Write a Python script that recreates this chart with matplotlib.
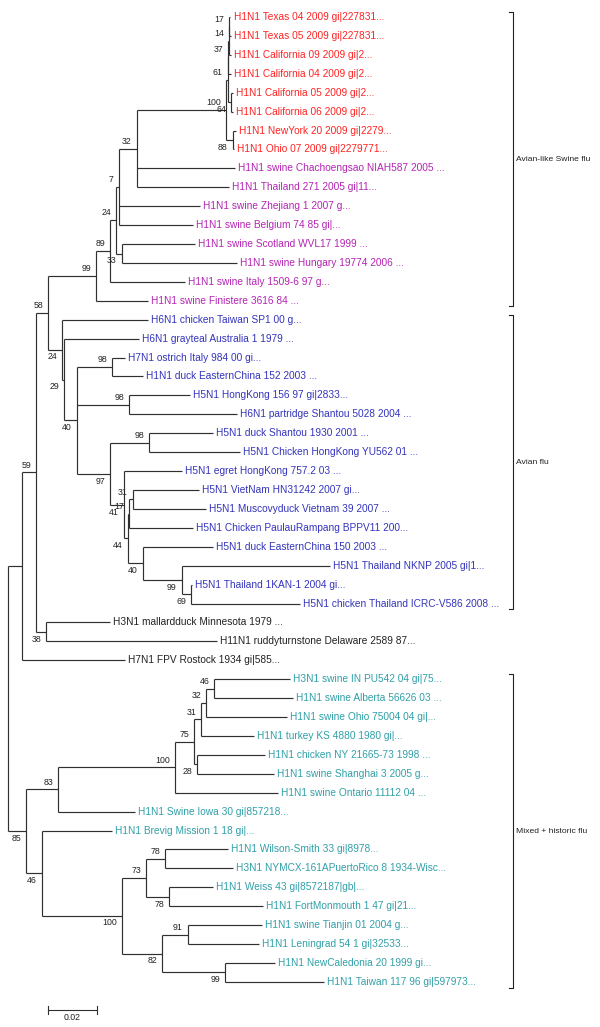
import matplotlib
matplotlib.use("Agg")
import matplotlib.pyplot as plt

plt.rcParams['font.family'] = ['Liberation Sans', 'DejaVu Sans']

# leaf labels, top to bottom (tree order)
leaf_names = [
    "H1N1 Texas 04 2009 gi|227831...",
    "H1N1 Texas 05 2009 gi|227831...",
    "H1N1 California 09 2009 gi|2...",
    "H1N1 California 04 2009 gi|2...",
    "H1N1 California 05 2009 gi|2...",
    "H1N1 California 06 2009 gi|2...",
    "H1N1 NewYork 20 2009 gi|2279...",
    "H1N1 Ohio 07 2009 gi|2279771...",
    "H1N1 swine Chachoengsao NIAH587 2005 ...",
    "H1N1 Thailand 271 2005 gi|11...",
    "H1N1 swine Zhejiang 1 2007 g...",
    "H1N1 swine Belgium 74 85 gi|...",
    "H1N1 swine Scotland WVL17 1999 ...",
    "H1N1 swine Hungary 19774 2006 ...",
    "H1N1 swine Italy 1509-6 97 g...",
    "H1N1 swine Finistere 3616 84 ...",
    "H6N1 chicken Taiwan SP1 00 g...",
    "H6N1 grayteal Australia 1 1979 ...",
    "H7N1 ostrich Italy 984 00 gi...",
    "H1N1 duck EasternChina 152 2003 ...",
    "H5N1 HongKong 156 97 gi|2833...",
    "H6N1 partridge Shantou 5028 2004 ...",
    "H5N1 duck Shantou 1930 2001 ...",
    "H5N1 Chicken HongKong YU562 01 ...",
    "H5N1 egret HongKong 757.2 03 ...",
    "H5N1 VietNam HN31242 2007 gi...",
    "H5N1 Muscovyduck Vietnam 39 2007 ...",
    "H5N1 Chicken PaulauRampang BPPV11 200...",
    "H5N1 duck EasternChina 150 2003 ...",
    "H5N1 Thailand NKNP 2005 gi|1...",
    "H5N1 Thailand 1KAN-1 2004 gi...",
    "H5N1 chicken Thailand ICRC-V586 2008 ...",
    "H3N1 mallardduck Minnesota 1979 ...",
    "H11N1 ruddyturnstone Delaware 2589 87...",
    "H7N1 FPV Rostock 1934 gi|585...",
    "H3N1 swine IN PU542 04 gi|75...",
    "H1N1 swine Alberta 56626 03 ...",
    "H1N1 swine Ohio 75004 04 gi|...",
    "H1N1 turkey KS 4880 1980 gi|...",
    "H1N1 chicken NY 21665-73 1998 ...",
    "H1N1 swine Shanghai 3 2005 g...",
    "H1N1 swine Ontario 11112 04 ...",
    "H1N1 Swine Iowa 30 gi|857218...",
    "H1N1 Brevig Mission 1 18 gi|...",
    "H1N1 Wilson-Smith 33 gi|8978...",
    "H3N1 NYMCX-161APuertoRico 8 1934-Wisc...",
    "H1N1 Weiss 43 gi|8572187|gb|...",
    "H1N1 FortMonmouth 1 47 gi|21...",
    "H1N1 swine Tianjin 01 2004 g...",
    "H1N1 Leningrad 54 1 gi|32533...",
    "H1N1 NewCaledonia 20 1999 gi...",
    "H1N1 Taiwan 117 96 gi|597973...",
]

group_colors = ['#ff2222', '#b424b4', '#3434bc', '#222222', '#30a0a8']
leaf_group = [0] * 8 + [1] * 8 + [2] * 16 + [3] * 3 + [4] * 17

# tree: leaves are indices into leaf_names, internal labels are bootstrap values
newick = (
    "((((((((((((((0:0.0004,1:0.0008)17:0.0002,2:0.0010)14:0.0002,3:0.0012)37:0.0004,"
    "(4:0.0008,5:0.0008)64:0.0016)61:0.0008,(6:0.0012,7:0.0004)88:0.0029)100:0.0363,"
    "8:0.0400,9:0.0376)32:0.0073,10:0.0331,11:0.0302)7:0.0012,"
    "(12:0.0298,13:0.0469)33:0.0024)24:0.0024,14:0.0306)89:0.0057,15:0.0212)99:0.0196,"
    "(16:0.0351,(17:0.0306,((18:0.0053,19:0.0127)98:0.0143,(20:0.0249,21:0.0441)98:0.0212,"
    "((22:0.0261,23:0.0371)98:0.0159,(24:0.0237,(((25:0.0269,26:0.0298)31:0.0016,"
    "27:0.0261)17:0.0004,(28:0.0286,(29:0.0604,(30:0.0004,31:0.0445)69:0.0037)99:0.0159"
    ")40:0.0061)44:0.0016)41:0.0057)97:0.0135)40:0.0053)29:0.0008)24:0.0057)58:0.0049,"
    "(32:0.0261,33:0.0698)38:0.0041)59:0.0057,34:0.0420):0.0057,"
    "(((((((35:0.0310,36:0.0322)46:0.0033,37:0.0331)32:0.0020,38:0.0216)31:0.0029,"
    "(39:0.0278,40:0.0314)28:0.0012)75:0.0078,41:0.0420)100:0.0478,42:0.0314)83:0.0131,"
    "(43:0.0286,(((44:0.0257,45:0.0278)78:0.0078,(46:0.0180,47:0.0384)78:0.0094)73:0.0098,"
    "((48:0.0302,49:0.0290)91:0.0106,(50:0.0204,51:0.0404)99:0.0257)82:0.0163"
    ")100:0.0327)46:0.0065)85:0.0073);"
)

clade_labels = ['Avian-like Swine flu', 'Avian flu', 'Mixed + historic flu']
clade_first = [0, 16, 35]
clade_last = [15, 31, 51]

scale_len = 0.02


def parse(s):
    pos = 0

    def node():
        nonlocal pos
        kids = []
        if s[pos] == '(':
            pos += 1
            while True:
                kids.append(node())
                if s[pos] == ',':
                    pos += 1
                    continue
                pos += 1
                break
        name = ''
        while s[pos] not in ',():;':
            name += s[pos]
            pos += 1
        length = 0.0
        if s[pos] == ':':
            pos += 1
            num = ''
            while s[pos] not in ',();':
                num += s[pos]
                pos += 1
            length = float(num)
        return {'name': name, 'len': length, 'kids': kids}

    return node()


def layout(n, x0):
    n['x'] = x0 + n['len']
    if not n['kids']:
        n['y'] = int(n['name'])
    else:
        for k in n['kids']:
            layout(k, n['x'])
        n['y'] = (n['kids'][0]['y'] + n['kids'][-1]['y']) / 2


root = parse(newick)
root['len'] = 0.0
layout(root, 0.0)

fig = plt.figure(figsize=(6.0, 10.27), dpi=100)
ax = fig.add_axes([0, 0, 1, 1])
px = scale_len / 49.0
ax.set_xlim(-8 * px, 592 * px)
step = 18.92
ax.set_ylim((1027 - 17) / step, -17 / step)
ax.axis('off')

lc = '#303030'
lw = 0.85


def draw(n, is_last):
    if n['kids']:
        ax.plot([n['x'], n['x']], [n['kids'][0]['y'], n['kids'][-1]['y']],
                color=lc, lw=lw, solid_capstyle='butt')
        for i, k in enumerate(n['kids']):
            ax.plot([n['x'], k['x']], [k['y'], k['y']], color=lc, lw=lw,
                    solid_capstyle='butt')
            draw(k, i == len(n['kids']) - 1)
        if n['name']:
            ax.annotate(n['name'], (n['x'], n['y']),
                        xytext=(-3.5, -2 if is_last else 2),
                        textcoords='offset points', ha='right',
                        va='top' if is_last else 'bottom',
                        fontsize=6.3, color='#222222')
    else:
        i = int(n['name'])
        ax.annotate(leaf_names[i], (n['x'], n['y']), xytext=(2.2, 0),
                    textcoords='offset points', ha='left', va='center',
                    fontsize=7.3, color=group_colors[leaf_group[i]])


draw(root, False)

# clade brackets
bx = 505 * px
tick = 4 * px
for lab, a, b in zip(clade_labels, clade_first, clade_last):
    y0, y1 = a - 0.25, b + 0.3
    ax.plot([bx - tick, bx, bx, bx - tick], [y0, y0, y1, y1],
            color='#222222', lw=0.8)
    ax.annotate(lab, (bx, (y0 + y1) / 2), xytext=(2.5, 0),
                textcoords='offset points', ha='left', va='center',
                fontsize=6.1, color='#222222')

# scale bar
sx = 40 * px
sy = (1010 - 17) / step
ax.plot([sx, sx + scale_len], [sy, sy], color=lc, lw=0.8)
ax.plot([sx, sx], [sy - 0.2, sy + 0.2], color=lc, lw=0.8)
ax.plot([sx + scale_len, sx + scale_len], [sy - 0.2, sy + 0.2], color=lc, lw=0.8)
ax.annotate(f"{scale_len:.2f}", (sx + scale_len / 2, sy), xytext=(0, -2.5),
            textcoords='offset points', ha='center', va='top',
            fontsize=6.3, color='#222222')

fig.savefig('out.png', dpi=100, facecolor='white')
